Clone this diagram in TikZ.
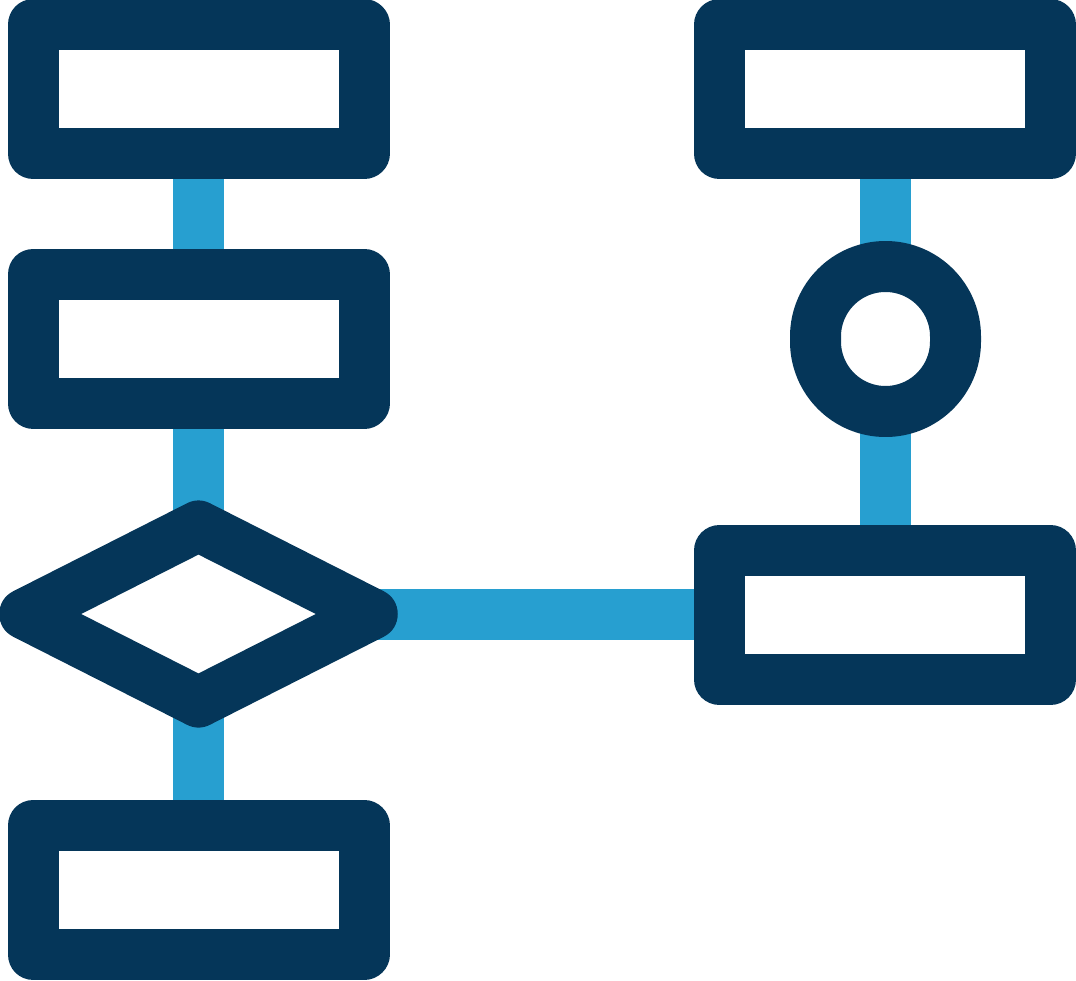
\documentclass[tikz,border=0pt]{standalone}
\usetikzlibrary{shapes.geometric,backgrounds}
\definecolor{navy}{RGB}{5,54,89}
\definecolor{sky}{RGB}{39,159,208}
\begin{document}
\begin{tikzpicture}[x=1pt,y=-1pt,
  shapebase/.style={draw=navy,line width=51pt,line join=round,inner sep=0pt,outer sep=0pt,fill=white},
  box/.style={shapebase,rectangle,minimum width=331pt,minimum height=129pt},
  dia/.style={shapebase,diamond,minimum width=347.5pt,minimum height=176pt},
  pill/.style={shapebase,rectangle,rounded corners=70pt,minimum width=140pt,minimum height=145pt},
  conn/.style={draw=sky,line width=51pt,line cap=butt}]
\useasboundingbox (0,0) rectangle (1076,980);
\node[box] (b1) at (198.5,89.25) {};
\node[box] (b2) at (198.5,338.75) {};
\node[dia] (d) at (198.5,614) {};
\node[box] (b4) at (198.5,890) {};
\node[box] (tr) at (885,89.25) {};
\node[pill] (c) at (885.5,339) {};
\node[box] (rb) at (885,615) {};
\begin{pgfonlayer}{background}
\draw[conn] (b1.south) -- (b2.north);
\draw[conn] (b2.south) -- (d.north);
\draw[conn] (d.south) -- (b4.north);
\draw[conn] (d.east) -- (d.east -| rb.west);
\draw[conn] (tr.south) -- (tr.south |- c.north);
\draw[conn] (c.south) -- (c.south |- rb.north);
\end{pgfonlayer}
\end{tikzpicture}
\end{document}
